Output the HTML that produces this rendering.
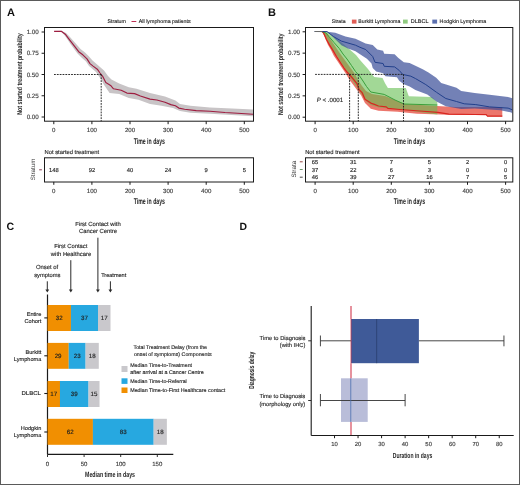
<!DOCTYPE html>
<html><head><meta charset="utf-8"><style>
html,body{margin:0;padding:0;background:#fff;}
body{width:520px;height:485px;overflow:hidden;}
svg{display:block;font-family:"Liberation Sans", sans-serif;will-change:transform;}
</style></head><body>
<svg width="520" height="485" viewBox="0 0 520 485" text-rendering="geometricPrecision">
<rect x="0" y="0" width="520" height="485" fill="#fff"/>
<text x="7" y="15.8" font-size="11" text-anchor="start" font-weight="bold" fill="#111" stroke="#111" stroke-width="0.0" >A</text>
<text x="268" y="15.8" font-size="11" text-anchor="start" font-weight="bold" fill="#111" stroke="#111" stroke-width="0.0" >B</text>
<text x="6.5" y="230" font-size="10.6" text-anchor="start" font-weight="bold" fill="#111" stroke="#111" stroke-width="0.0" >C</text>
<text x="239.5" y="229.6" font-size="10.4" text-anchor="start" font-weight="bold" fill="#111" stroke="#111" stroke-width="0.0" >D</text>
<path d="M54.00,31.00 L61.30,30.80 L66.00,33.00 L69.50,36.50 L73.00,40.50 L77.00,45.00 L80.50,49.00 L85.00,52.50 L89.00,56.50 L92.50,60.50 L96.00,63.50 L100.00,67.00 L104.00,70.50 L108.00,76.00 L111.50,79.60 L119.20,83.50 L128.80,87.30 L136.50,88.80 L150.00,93.10 L165.00,96.50 L175.40,100.60 L180.00,104.00 L190.40,105.80 L210.00,107.50 L237.50,108.75 L253.00,109.50 L253.00,116.25 L210.00,113.80 L190.40,112.70 L180.00,111.00 L173.00,108.10 L161.50,105.80 L150.00,104.00 L138.50,99.80 L128.80,97.90 L119.20,94.00 L109.60,93.10 L103.80,84.40 L101.50,80.00 L99.00,76.50 L96.00,72.00 L92.00,68.50 L89.00,66.00 L86.00,61.50 L81.50,57.50 L77.50,53.50 L74.50,49.50 L70.50,44.00 L67.50,39.50 L64.50,35.20 L61.30,31.80 L54.00,31.60Z" fill="#c8c4c6" stroke="none" stroke-width="1" />
<path d="M54.10,31.30 L61.30,31.30 L65.30,34.20 L68.40,38.30 L71.50,42.40 L75.60,47.60 L78.70,51.70 L82.80,54.80 L87.00,58.90 L90.00,63.60 L93.10,66.10 L97.30,69.20 L100.00,73.00 L102.90,76.70 L105.80,82.50 L110.60,85.40 L113.50,88.80 L121.20,90.20 L126.90,93.10 L134.60,93.60 L140.40,96.00 L150.00,99.10 L156.90,100.00 L165.00,102.30 L170.80,104.60 L175.40,105.80 L178.80,108.10 L184.60,109.20 L196.20,110.60 L210.00,111.30 L225.00,112.50 L237.50,113.20 L253.00,114.30" fill="none" stroke="#9e1d40" stroke-width="1.15" stroke-linejoin="round"/>
<path d="M54,74.5 L101.2,74.5 M101.2,74.5 L101.2,121.2" fill="none" stroke="#222" stroke-width="0.95" stroke-dasharray="1.8,1.05"/>
<rect x="44.5" y="27.5" width="209.0" height="93.7" fill="none" stroke="#1a1a1a" stroke-width="1"/>
<line x1="41.6" y1="32.0" x2="44.5" y2="32.0" stroke="#1a1a1a" stroke-width="1.0" />
<text x="38.8" y="34.22" font-size="6.25" text-anchor="end" font-weight="normal" fill="#3a3a3a" stroke="#3a3a3a" stroke-width="0.14" >1.00</text>
<line x1="41.6" y1="53.25" x2="44.5" y2="53.25" stroke="#1a1a1a" stroke-width="1.0" />
<text x="38.8" y="55.47" font-size="6.25" text-anchor="end" font-weight="normal" fill="#3a3a3a" stroke="#3a3a3a" stroke-width="0.14" >0.75</text>
<line x1="41.6" y1="74.5" x2="44.5" y2="74.5" stroke="#1a1a1a" stroke-width="1.0" />
<text x="38.8" y="76.72" font-size="6.25" text-anchor="end" font-weight="normal" fill="#3a3a3a" stroke="#3a3a3a" stroke-width="0.14" >0.50</text>
<line x1="41.6" y1="95.75" x2="44.5" y2="95.75" stroke="#1a1a1a" stroke-width="1.0" />
<text x="38.8" y="97.97" font-size="6.25" text-anchor="end" font-weight="normal" fill="#3a3a3a" stroke="#3a3a3a" stroke-width="0.14" >0.25</text>
<line x1="41.6" y1="117.0" x2="44.5" y2="117.0" stroke="#1a1a1a" stroke-width="1.0" />
<text x="38.8" y="119.22" font-size="6.25" text-anchor="end" font-weight="normal" fill="#3a3a3a" stroke="#3a3a3a" stroke-width="0.14" >0.00</text>
<line x1="53.8" y1="121.2" x2="53.8" y2="124.2" stroke="#1a1a1a" stroke-width="1.0" />
<text x="53.8" y="132.37" font-size="6.1" text-anchor="middle" font-weight="normal" fill="#3a3a3a" stroke="#3a3a3a" stroke-width="0.14" >0</text>
<line x1="91.9" y1="121.2" x2="91.9" y2="124.2" stroke="#1a1a1a" stroke-width="1.0" />
<text x="91.9" y="132.37" font-size="6.1" text-anchor="middle" font-weight="normal" fill="#3a3a3a" stroke="#3a3a3a" stroke-width="0.14" >100</text>
<line x1="130.0" y1="121.2" x2="130.0" y2="124.2" stroke="#1a1a1a" stroke-width="1.0" />
<text x="130.0" y="132.37" font-size="6.1" text-anchor="middle" font-weight="normal" fill="#3a3a3a" stroke="#3a3a3a" stroke-width="0.14" >200</text>
<line x1="168.10000000000002" y1="121.2" x2="168.10000000000002" y2="124.2" stroke="#1a1a1a" stroke-width="1.0" />
<text x="168.10000000000002" y="132.37" font-size="6.1" text-anchor="middle" font-weight="normal" fill="#3a3a3a" stroke="#3a3a3a" stroke-width="0.14" >300</text>
<line x1="206.2" y1="121.2" x2="206.2" y2="124.2" stroke="#1a1a1a" stroke-width="1.0" />
<text x="206.2" y="132.37" font-size="6.1" text-anchor="middle" font-weight="normal" fill="#3a3a3a" stroke="#3a3a3a" stroke-width="0.14" >400</text>
<line x1="244.3" y1="121.2" x2="244.3" y2="124.2" stroke="#1a1a1a" stroke-width="1.0" />
<text x="244.3" y="132.37" font-size="6.1" text-anchor="middle" font-weight="normal" fill="#3a3a3a" stroke="#3a3a3a" stroke-width="0.14" >500</text>
<text x="149.3" y="143.5" font-size="8.3" text-anchor="middle" font-weight="bold" fill="#222" stroke="#222" stroke-width="0.0" textLength="31.3" lengthAdjust="spacingAndGlyphs">Time in days</text>
<text transform="translate(21.9,74) rotate(-90)" x="0" y="0" font-size="7" text-anchor="middle" font-weight="bold" fill="#222" textLength="81.5" lengthAdjust="spacingAndGlyphs">Not started treatment probability</text>
<text x="107.5" y="23.36" font-size="5.25" text-anchor="start" font-weight="normal" fill="#262626" stroke="#262626" stroke-width="0.14" >Stratum</text>
<line x1="131.5" y1="21.5" x2="136.3" y2="21.5" stroke="#b8173f" stroke-width="0.9" />
<text x="138.8" y="23.38" font-size="5.3" text-anchor="start" font-weight="normal" fill="#262626" stroke="#262626" stroke-width="0.14" >All lymphoma patients</text>
<text x="44.6" y="153.56" font-size="5.8" text-anchor="start" font-weight="normal" fill="#262626" stroke="#262626" stroke-width="0.14" >Not started treatment</text>
<rect x="44.5" y="157.8" width="209" height="24.2" fill="none" stroke="#1a1a1a" stroke-width="1"/>
<text x="53.8" y="171.86" font-size="5.8" text-anchor="middle" font-weight="normal" fill="#262626" stroke="#262626" stroke-width="0.14" >148</text>
<text x="91.9" y="171.86" font-size="5.8" text-anchor="middle" font-weight="normal" fill="#262626" stroke="#262626" stroke-width="0.14" >92</text>
<text x="130.0" y="171.86" font-size="5.8" text-anchor="middle" font-weight="normal" fill="#262626" stroke="#262626" stroke-width="0.14" >40</text>
<text x="168.10000000000002" y="171.86" font-size="5.8" text-anchor="middle" font-weight="normal" fill="#262626" stroke="#262626" stroke-width="0.14" >24</text>
<text x="206.2" y="171.86" font-size="5.8" text-anchor="middle" font-weight="normal" fill="#262626" stroke="#262626" stroke-width="0.14" >9</text>
<text x="244.3" y="171.86" font-size="5.8" text-anchor="middle" font-weight="normal" fill="#262626" stroke="#262626" stroke-width="0.14" >5</text>
<line x1="39.2" y1="169.8" x2="41.9" y2="169.8" stroke="#8a3a50" stroke-width="1.0" />
<text transform="translate(35.0,169.5) rotate(-90)" font-size="6.2" text-anchor="middle" fill="#333">Stratum</text>
<line x1="53.8" y1="181.9" x2="53.8" y2="184.8" stroke="#1a1a1a" stroke-width="1.0" />
<text x="53.8" y="193.17" font-size="6.1" text-anchor="middle" font-weight="normal" fill="#3a3a3a" stroke="#3a3a3a" stroke-width="0.14" >0</text>
<line x1="91.9" y1="181.9" x2="91.9" y2="184.8" stroke="#1a1a1a" stroke-width="1.0" />
<text x="91.9" y="193.17" font-size="6.1" text-anchor="middle" font-weight="normal" fill="#3a3a3a" stroke="#3a3a3a" stroke-width="0.14" >100</text>
<line x1="130.0" y1="181.9" x2="130.0" y2="184.8" stroke="#1a1a1a" stroke-width="1.0" />
<text x="130.0" y="193.17" font-size="6.1" text-anchor="middle" font-weight="normal" fill="#3a3a3a" stroke="#3a3a3a" stroke-width="0.14" >200</text>
<line x1="168.10000000000002" y1="181.9" x2="168.10000000000002" y2="184.8" stroke="#1a1a1a" stroke-width="1.0" />
<text x="168.10000000000002" y="193.17" font-size="6.1" text-anchor="middle" font-weight="normal" fill="#3a3a3a" stroke="#3a3a3a" stroke-width="0.14" >300</text>
<line x1="206.2" y1="181.9" x2="206.2" y2="184.8" stroke="#1a1a1a" stroke-width="1.0" />
<text x="206.2" y="193.17" font-size="6.1" text-anchor="middle" font-weight="normal" fill="#3a3a3a" stroke="#3a3a3a" stroke-width="0.14" >400</text>
<line x1="244.3" y1="181.9" x2="244.3" y2="184.8" stroke="#1a1a1a" stroke-width="1.0" />
<text x="244.3" y="193.17" font-size="6.1" text-anchor="middle" font-weight="normal" fill="#3a3a3a" stroke="#3a3a3a" stroke-width="0.14" >500</text>
<text x="149.3" y="204" font-size="8.3" text-anchor="middle" font-weight="bold" fill="#222" stroke="#222" stroke-width="0.0" textLength="31.3" lengthAdjust="spacingAndGlyphs">Time in days</text>
<path d="M322.00,31.50 L327.00,33.00 L331.00,40.00 L335.00,46.00 L339.00,52.00 L343.00,57.50 L347.00,63.00 L351.00,68.50 L355.00,74.00 L358.00,80.00 L362.00,86.00 L366.00,91.00 L372.00,94.00 L385.00,96.00 L395.00,100.00 L405.00,104.00 L437.00,106.00 L455.00,107.00 L502.30,107.00 L502.30,116.50 L487.30,116.50 L486.00,115.00 L455.00,115.00 L440.00,114.60 L416.90,113.70 L397.70,111.70 L378.50,110.80 L370.80,108.80 L365.00,103.10 L361.20,95.40 L355.40,87.70 L349.60,80.00 L345.40,73.10 L341.50,67.30 L337.70,61.50 L333.80,55.80 L331.00,50.00 L328.00,44.90 L325.70,39.50 L324.20,35.70 L322.20,32.20Z" fill="rgb(228,60,45)" fill-opacity="0.7"/>
<path d="M322.00,31.50 L328.00,32.30 L332.00,35.50 L336.00,38.50 L340.00,41.50 L344.00,44.50 L348.00,48.00 L352.00,51.50 L356.00,55.00 L360.00,60.00 L364.00,64.50 L368.00,69.00 L371.00,73.00 L374.20,76.90 L382.50,78.00 L385.20,83.50 L387.90,88.00 L405.80,88.00 L408.80,96.20 L431.90,96.90 L436.50,101.50 L437.30,101.50 L437.30,114.60 L416.90,111.70 L403.50,109.80 L390.00,108.50 L378.50,107.50 L370.80,105.00 L366.00,101.00 L362.00,95.00 L358.00,89.00 L354.00,83.00 L350.00,77.00 L346.00,70.00 L342.00,64.00 L337.70,57.00 L333.00,50.00 L329.00,43.00 L326.00,37.00 L322.50,32.00Z" fill="rgb(100,190,80)" fill-opacity="0.6"/>
<path d="M314.60,31.50 L325.00,31.60 L335.30,32.80 L345.40,36.50 L355.50,38.80 L365.60,43.50 L372.70,45.00 L377.30,49.60 L383.10,50.80 L384.20,53.70 L394.60,54.20 L398.10,57.70 L403.80,62.30 L409.60,62.90 L415.40,65.80 L422.70,69.20 L428.50,72.40 L436.20,77.80 L441.20,83.10 L456.50,87.70 L461.20,91.00 L474.60,93.10 L489.60,94.80 L508.10,97.10 L512.30,98.30 L512.30,113.80 L511.40,112.50 L500.40,110.30 L474.80,108.60 L461.20,109.00 L445.80,106.20 L436.50,101.50 L427.30,94.60 L415.40,90.00 L409.60,86.50 L403.80,84.20 L399.20,80.80 L396.90,77.30 L385.40,76.20 L383.10,73.30 L376.20,71.50 L372.70,68.10 L371.50,63.50 L366.90,58.80 L360.00,54.20 L355.50,51.20 L348.00,48.50 L341.40,45.20 L335.00,39.00 L329.20,33.00 L327.00,32.00Z" fill="rgb(56,76,151)" fill-opacity="0.7"/>
<path d="M322.00,31.50 L323.40,32.60 L326.50,39.50 L329.50,44.90 L333.40,51.10 L336.50,56.50 L340.00,62.00 L344.00,68.00 L347.00,72.00 L350.20,75.40 L356.90,83.50 L359.20,89.60 L362.30,92.90 L365.00,99.20 L367.70,101.00 L370.80,103.10 L374.40,104.30 L378.50,106.00 L386.20,106.90 L387.90,108.40 L400.00,109.50 L420.00,111.00 L438.00,112.30 L448.80,114.20 L475.00,114.50 L486.20,114.50 L487.30,116.00 L502.30,116.00" fill="none" stroke="#d8261f" stroke-width="1.25" stroke-linejoin="round"/>
<path d="M322.00,31.50 L326.00,33.00 L329.20,36.80 L334.00,42.50 L339.30,48.50 L343.00,54.00 L347.00,59.00 L351.50,65.50 L355.50,71.50 L359.60,76.00 L363.00,81.00 L366.50,86.50 L370.80,92.00 L384.20,94.40 L395.00,100.00 L404.00,104.00 L437.30,105.00" fill="none" stroke="#3a9f3a" stroke-width="1.0" stroke-linejoin="round"/>
<path d="M314.60,31.50 L327.00,31.60 L333.40,36.50 L341.40,41.10 L355.50,45.20 L360.00,47.30 L365.80,49.60 L372.70,56.50 L375.00,62.30 L383.10,63.50 L384.20,66.30 L394.60,66.90 L399.20,70.40 L402.70,74.40 L410.80,76.20 L415.40,78.50 L425.80,84.60 L436.50,92.30 L445.80,98.50 L456.50,101.50 L464.20,103.80 L475.80,104.60 L489.60,106.90 L508.10,108.10 L512.30,109.80" fill="none" stroke="#22408c" stroke-width="1.0" stroke-linejoin="round"/>
<path d="M314.6,31.5 L322.5,31.5" stroke="#6a6a6a" stroke-width="1"/>
<path d="M315.1,74.4 L403.5,74.4 M349.6,74.4 L349.6,121.2 M358.3,74.4 L358.3,121.2 M403.5,74.4 L403.5,121.2" fill="none" stroke="#222" stroke-width="0.95" stroke-dasharray="1.8,1.05"/>
<rect x="305.5" y="27.5" width="207.3" height="93.7" fill="none" stroke="#1a1a1a" stroke-width="1"/>
<line x1="302.6" y1="31.8" x2="305.5" y2="31.8" stroke="#1a1a1a" stroke-width="1.0" />
<text x="300.1" y="34.02" font-size="6.25" text-anchor="end" font-weight="normal" fill="#3a3a3a" stroke="#3a3a3a" stroke-width="0.14" >1.00</text>
<line x1="302.6" y1="53.150000000000006" x2="305.5" y2="53.150000000000006" stroke="#1a1a1a" stroke-width="1.0" />
<text x="300.1" y="55.37" font-size="6.25" text-anchor="end" font-weight="normal" fill="#3a3a3a" stroke="#3a3a3a" stroke-width="0.14" >0.75</text>
<line x1="302.6" y1="74.5" x2="305.5" y2="74.5" stroke="#1a1a1a" stroke-width="1.0" />
<text x="300.1" y="76.72" font-size="6.25" text-anchor="end" font-weight="normal" fill="#3a3a3a" stroke="#3a3a3a" stroke-width="0.14" >0.50</text>
<line x1="302.6" y1="95.85000000000001" x2="305.5" y2="95.85000000000001" stroke="#1a1a1a" stroke-width="1.0" />
<text x="300.1" y="98.07" font-size="6.25" text-anchor="end" font-weight="normal" fill="#3a3a3a" stroke="#3a3a3a" stroke-width="0.14" >0.25</text>
<line x1="302.6" y1="117.2" x2="305.5" y2="117.2" stroke="#1a1a1a" stroke-width="1.0" />
<text x="300.1" y="119.42" font-size="6.25" text-anchor="end" font-weight="normal" fill="#3a3a3a" stroke="#3a3a3a" stroke-width="0.14" >0.00</text>
<line x1="315.1" y1="121.2" x2="315.1" y2="124.2" stroke="#1a1a1a" stroke-width="1.0" />
<text x="315.1" y="132.37" font-size="6.1" text-anchor="middle" font-weight="normal" fill="#3a3a3a" stroke="#3a3a3a" stroke-width="0.14" >0</text>
<line x1="353.20000000000005" y1="121.2" x2="353.20000000000005" y2="124.2" stroke="#1a1a1a" stroke-width="1.0" />
<text x="353.20000000000005" y="132.37" font-size="6.1" text-anchor="middle" font-weight="normal" fill="#3a3a3a" stroke="#3a3a3a" stroke-width="0.14" >100</text>
<line x1="391.3" y1="121.2" x2="391.3" y2="124.2" stroke="#1a1a1a" stroke-width="1.0" />
<text x="391.3" y="132.37" font-size="6.1" text-anchor="middle" font-weight="normal" fill="#3a3a3a" stroke="#3a3a3a" stroke-width="0.14" >200</text>
<line x1="429.40000000000003" y1="121.2" x2="429.40000000000003" y2="124.2" stroke="#1a1a1a" stroke-width="1.0" />
<text x="429.40000000000003" y="132.37" font-size="6.1" text-anchor="middle" font-weight="normal" fill="#3a3a3a" stroke="#3a3a3a" stroke-width="0.14" >300</text>
<line x1="467.5" y1="121.2" x2="467.5" y2="124.2" stroke="#1a1a1a" stroke-width="1.0" />
<text x="467.5" y="132.37" font-size="6.1" text-anchor="middle" font-weight="normal" fill="#3a3a3a" stroke="#3a3a3a" stroke-width="0.14" >400</text>
<line x1="505.6" y1="121.2" x2="505.6" y2="124.2" stroke="#1a1a1a" stroke-width="1.0" />
<text x="505.6" y="132.37" font-size="6.1" text-anchor="middle" font-weight="normal" fill="#3a3a3a" stroke="#3a3a3a" stroke-width="0.14" >500</text>
<text x="409.5" y="143.5" font-size="8.3" text-anchor="middle" font-weight="bold" fill="#222" stroke="#222" stroke-width="0.0" textLength="31.3" lengthAdjust="spacingAndGlyphs">Time in days</text>
<text transform="translate(283.0,74.2) rotate(-90)" x="0" y="0" font-size="7" text-anchor="middle" font-weight="bold" fill="#222" textLength="81.5" lengthAdjust="spacingAndGlyphs">Not started treatment probability</text>
<text x="331.7" y="23.15" font-size="5.2" text-anchor="start" font-weight="normal" fill="#262626" stroke="#262626" stroke-width="0.14" >Strata</text>
<rect x="351.9" y="19.6" width="4.6" height="4" fill="#e15d55" />
<text x="358.3" y="23.16" font-size="5.25" text-anchor="start" font-weight="normal" fill="#262626" stroke="#262626" stroke-width="0.14" >Burkitt Lymphoma</text>
<rect x="403" y="19.6" width="4.7" height="4" fill="#8fca7f" />
<text x="410.8" y="23.25" font-size="5.5" text-anchor="start" font-weight="normal" fill="#262626" stroke="#262626" stroke-width="0.14" >DLBCL</text>
<rect x="432.3" y="19.6" width="4.8" height="4" fill="#5b6fae" />
<text x="439.6" y="23.17" font-size="5.26" text-anchor="start" font-weight="normal" fill="#262626" stroke="#262626" stroke-width="0.14" >Hodgkin Lymphoma</text>
<text x="316.8" y="102.2" font-size="6.1" text-anchor="start" font-weight="normal" fill="#262626" stroke="#262626" stroke-width="0.14" ><tspan font-style="italic">P</tspan> &lt; .0001</text>
<text x="305.2" y="153.56" font-size="5.8" text-anchor="start" font-weight="normal" fill="#262626" stroke="#262626" stroke-width="0.14" >Not started treatment</text>
<rect x="305.5" y="157.8" width="207.3" height="24.2" fill="none" stroke="#1a1a1a" stroke-width="1"/>
<text x="315.1" y="163.86" font-size="5.8" text-anchor="middle" font-weight="normal" fill="#262626" stroke="#262626" stroke-width="0.14" >65</text>
<text x="353.20000000000005" y="163.86" font-size="5.8" text-anchor="middle" font-weight="normal" fill="#262626" stroke="#262626" stroke-width="0.14" >31</text>
<text x="391.3" y="163.86" font-size="5.8" text-anchor="middle" font-weight="normal" fill="#262626" stroke="#262626" stroke-width="0.14" >7</text>
<text x="429.40000000000003" y="163.86" font-size="5.8" text-anchor="middle" font-weight="normal" fill="#262626" stroke="#262626" stroke-width="0.14" >5</text>
<text x="467.5" y="163.86" font-size="5.8" text-anchor="middle" font-weight="normal" fill="#262626" stroke="#262626" stroke-width="0.14" >2</text>
<text x="505.6" y="163.86" font-size="5.8" text-anchor="middle" font-weight="normal" fill="#262626" stroke="#262626" stroke-width="0.14" >0</text>
<line x1="299.8" y1="161.8" x2="302.7" y2="161.8" stroke="#8a3530" stroke-width="0.9" />
<text x="315.1" y="171.56" font-size="5.8" text-anchor="middle" font-weight="normal" fill="#262626" stroke="#262626" stroke-width="0.14" >37</text>
<text x="353.20000000000005" y="171.56" font-size="5.8" text-anchor="middle" font-weight="normal" fill="#262626" stroke="#262626" stroke-width="0.14" >22</text>
<text x="391.3" y="171.56" font-size="5.8" text-anchor="middle" font-weight="normal" fill="#262626" stroke="#262626" stroke-width="0.14" >6</text>
<text x="429.40000000000003" y="171.56" font-size="5.8" text-anchor="middle" font-weight="normal" fill="#262626" stroke="#262626" stroke-width="0.14" >3</text>
<text x="467.5" y="171.56" font-size="5.8" text-anchor="middle" font-weight="normal" fill="#262626" stroke="#262626" stroke-width="0.14" >0</text>
<text x="505.6" y="171.56" font-size="5.8" text-anchor="middle" font-weight="normal" fill="#262626" stroke="#262626" stroke-width="0.14" >0</text>
<line x1="299.8" y1="169.5" x2="302.7" y2="169.5" stroke="#5f8f5c" stroke-width="0.9" />
<text x="315.1" y="179.26" font-size="5.8" text-anchor="middle" font-weight="normal" fill="#262626" stroke="#262626" stroke-width="0.14" >46</text>
<text x="353.20000000000005" y="179.26" font-size="5.8" text-anchor="middle" font-weight="normal" fill="#262626" stroke="#262626" stroke-width="0.14" >39</text>
<text x="391.3" y="179.26" font-size="5.8" text-anchor="middle" font-weight="normal" fill="#262626" stroke="#262626" stroke-width="0.14" >27</text>
<text x="429.40000000000003" y="179.26" font-size="5.8" text-anchor="middle" font-weight="normal" fill="#262626" stroke="#262626" stroke-width="0.14" >16</text>
<text x="467.5" y="179.26" font-size="5.8" text-anchor="middle" font-weight="normal" fill="#262626" stroke="#262626" stroke-width="0.14" >7</text>
<text x="505.6" y="179.26" font-size="5.8" text-anchor="middle" font-weight="normal" fill="#262626" stroke="#262626" stroke-width="0.14" >5</text>
<line x1="299.8" y1="177.20000000000002" x2="302.7" y2="177.20000000000002" stroke="#333333" stroke-width="0.9" />
<text transform="translate(295.9,169.2) rotate(-90)" font-size="6.3" text-anchor="middle" fill="#333">Strata</text>
<line x1="315.1" y1="181.9" x2="315.1" y2="184.8" stroke="#1a1a1a" stroke-width="1.0" />
<text x="315.1" y="193.17" font-size="6.1" text-anchor="middle" font-weight="normal" fill="#3a3a3a" stroke="#3a3a3a" stroke-width="0.14" >0</text>
<line x1="353.20000000000005" y1="181.9" x2="353.20000000000005" y2="184.8" stroke="#1a1a1a" stroke-width="1.0" />
<text x="353.20000000000005" y="193.17" font-size="6.1" text-anchor="middle" font-weight="normal" fill="#3a3a3a" stroke="#3a3a3a" stroke-width="0.14" >100</text>
<line x1="391.3" y1="181.9" x2="391.3" y2="184.8" stroke="#1a1a1a" stroke-width="1.0" />
<text x="391.3" y="193.17" font-size="6.1" text-anchor="middle" font-weight="normal" fill="#3a3a3a" stroke="#3a3a3a" stroke-width="0.14" >200</text>
<line x1="429.40000000000003" y1="181.9" x2="429.40000000000003" y2="184.8" stroke="#1a1a1a" stroke-width="1.0" />
<text x="429.40000000000003" y="193.17" font-size="6.1" text-anchor="middle" font-weight="normal" fill="#3a3a3a" stroke="#3a3a3a" stroke-width="0.14" >300</text>
<line x1="467.5" y1="181.9" x2="467.5" y2="184.8" stroke="#1a1a1a" stroke-width="1.0" />
<text x="467.5" y="193.17" font-size="6.1" text-anchor="middle" font-weight="normal" fill="#3a3a3a" stroke="#3a3a3a" stroke-width="0.14" >400</text>
<line x1="505.6" y1="181.9" x2="505.6" y2="184.8" stroke="#1a1a1a" stroke-width="1.0" />
<text x="505.6" y="193.17" font-size="6.1" text-anchor="middle" font-weight="normal" fill="#3a3a3a" stroke="#3a3a3a" stroke-width="0.14" >500</text>
<text x="409.5" y="204" font-size="8.3" text-anchor="middle" font-weight="bold" fill="#222" stroke="#222" stroke-width="0.0" textLength="31.3" lengthAdjust="spacingAndGlyphs">Time in days</text>
<text x="98" y="225.79" font-size="5.9" text-anchor="middle" font-weight="normal" fill="#262626" stroke="#262626" stroke-width="0.14" >First Contact with</text>
<text x="98" y="232.88" font-size="5.85" text-anchor="middle" font-weight="normal" fill="#262626" stroke="#262626" stroke-width="0.14" >Cancer Centre</text>
<line x1="97.9" y1="237.7" x2="97.9" y2="290" stroke="#2a2a2a" stroke-width="1.0" />
<path d="M96.0,289.4 L99.80000000000001,289.4 L97.9,292.6 Z" fill="#2a2a2a" stroke="none" stroke-width="1" />
<text x="70.8" y="248.28" font-size="5.85" text-anchor="middle" font-weight="normal" fill="#262626" stroke="#262626" stroke-width="0.14" >First Contact</text>
<text x="71" y="255.58" font-size="5.85" text-anchor="middle" font-weight="normal" fill="#262626" stroke="#262626" stroke-width="0.14" >with Healthcare</text>
<line x1="70.8" y1="260.2" x2="70.8" y2="290" stroke="#2a2a2a" stroke-width="1.0" />
<path d="M68.89999999999999,289.4 L72.7,289.4 L70.8,292.6 Z" fill="#2a2a2a" stroke="none" stroke-width="1" />
<text x="47.1" y="269.39" font-size="5.9" text-anchor="middle" font-weight="normal" fill="#262626" stroke="#262626" stroke-width="0.14" >Onset of</text>
<text x="47.3" y="277.04" font-size="5.75" text-anchor="middle" font-weight="normal" fill="#262626" stroke="#262626" stroke-width="0.14" >symptoms</text>
<line x1="47.3" y1="281.3" x2="47.3" y2="290" stroke="#2a2a2a" stroke-width="1.0" />
<path d="M45.4,289.4 L49.199999999999996,289.4 L47.3,292.6 Z" fill="#2a2a2a" stroke="none" stroke-width="1" />
<text x="113.7" y="276.97" font-size="5.55" text-anchor="middle" font-weight="normal" fill="#262626" stroke="#262626" stroke-width="0.14" >Treatment</text>
<line x1="110.4" y1="281.3" x2="110.4" y2="290" stroke="#2a2a2a" stroke-width="1.0" />
<path d="M108.5,289.4 L112.30000000000001,289.4 L110.4,292.6 Z" fill="#2a2a2a" stroke="none" stroke-width="1" />
<line x1="47.5" y1="294.5" x2="47.5" y2="454.4" stroke="#1a1a1a" stroke-width="1.2" />
<line x1="47.5" y1="454.4" x2="173.3" y2="454.4" stroke="#1a1a1a" stroke-width="1.1" />
<rect x="47.5" y="305" width="23.474" height="26" fill="#f18f01" />
<text x="59.212" y="320.1" font-size="6.2" text-anchor="middle" font-weight="normal" fill="#1e1e1e" stroke="#1e1e1e" stroke-width="0.14" >32</text>
<rect x="70.924" y="305" width="27.134" height="26" fill="#27a8e0" />
<text x="84.46600000000001" y="320.1" font-size="6.2" text-anchor="middle" font-weight="normal" fill="#1e1e1e" stroke="#1e1e1e" stroke-width="0.14" >37</text>
<rect x="98.008" y="305" width="12.494" height="26" fill="#c9c8cc" />
<text x="104.22999999999999" y="320.1" font-size="6.2" text-anchor="middle" font-weight="normal" fill="#1e1e1e" stroke="#1e1e1e" stroke-width="0.14" >17</text>
<line x1="44.3" y1="317.9" x2="47.5" y2="317.9" stroke="#1a1a1a" stroke-width="1.1" />
<text x="41.3" y="316.39" font-size="5.6" text-anchor="end" font-weight="normal" fill="#262626" stroke="#262626" stroke-width="0.14" >Entire</text>
<text x="41.3" y="323.39" font-size="5.6" text-anchor="end" font-weight="normal" fill="#262626" stroke="#262626" stroke-width="0.14" >Cohort</text>
<rect x="47.5" y="342.9" width="21.278" height="25.900000000000034" fill="#f18f01" />
<text x="58.114" y="358.0" font-size="6.2" text-anchor="middle" font-weight="normal" fill="#1e1e1e" stroke="#1e1e1e" stroke-width="0.14" >29</text>
<rect x="68.728" y="342.9" width="16.886" height="25.900000000000034" fill="#27a8e0" />
<text x="77.146" y="358.0" font-size="6.2" text-anchor="middle" font-weight="normal" fill="#1e1e1e" stroke="#1e1e1e" stroke-width="0.14" >23</text>
<rect x="85.564" y="342.9" width="13.226" height="25.900000000000034" fill="#c9c8cc" />
<text x="92.152" y="358.0" font-size="6.2" text-anchor="middle" font-weight="normal" fill="#1e1e1e" stroke="#1e1e1e" stroke-width="0.14" >18</text>
<line x1="44.3" y1="355.8" x2="47.5" y2="355.8" stroke="#1a1a1a" stroke-width="1.1" />
<text x="41.3" y="354.29" font-size="5.6" text-anchor="end" font-weight="normal" fill="#262626" stroke="#262626" stroke-width="0.14" >Burkitt</text>
<text x="41.3" y="361.29" font-size="5.6" text-anchor="end" font-weight="normal" fill="#262626" stroke="#262626" stroke-width="0.14" >Lymphoma</text>
<rect x="47.5" y="381" width="12.494" height="26" fill="#f18f01" />
<text x="53.722" y="395.7" font-size="6.2" text-anchor="middle" font-weight="normal" fill="#1e1e1e" stroke="#1e1e1e" stroke-width="0.14" >17</text>
<rect x="59.944" y="381" width="28.598" height="26" fill="#27a8e0" />
<text x="74.218" y="395.7" font-size="6.2" text-anchor="middle" font-weight="normal" fill="#1e1e1e" stroke="#1e1e1e" stroke-width="0.14" >39</text>
<rect x="88.49199999999999" y="381" width="11.030000000000001" height="26" fill="#c9c8cc" />
<text x="93.982" y="395.7" font-size="6.2" text-anchor="middle" font-weight="normal" fill="#1e1e1e" stroke="#1e1e1e" stroke-width="0.14" >15</text>
<line x1="44.3" y1="393.5" x2="47.5" y2="393.5" stroke="#1a1a1a" stroke-width="1.1" />
<text x="41.0" y="395.49" font-size="5.6" text-anchor="end" font-weight="normal" fill="#262626" stroke="#262626" stroke-width="0.14" textLength="19.5" lengthAdjust="spacingAndGlyphs">DLBCL</text>
<rect x="47.5" y="418.8" width="45.434" height="26.0" fill="#f18f01" />
<text x="70.19200000000001" y="434.2" font-size="6.2" text-anchor="middle" font-weight="normal" fill="#1e1e1e" stroke="#1e1e1e" stroke-width="0.14" >62</text>
<rect x="92.884" y="418.8" width="60.806" height="26.0" fill="#27a8e0" />
<text x="123.262" y="434.2" font-size="6.2" text-anchor="middle" font-weight="normal" fill="#1e1e1e" stroke="#1e1e1e" stroke-width="0.14" >83</text>
<rect x="153.64" y="418.8" width="13.226" height="26.0" fill="#c9c8cc" />
<text x="160.228" y="434.2" font-size="6.2" text-anchor="middle" font-weight="normal" fill="#1e1e1e" stroke="#1e1e1e" stroke-width="0.14" >18</text>
<line x1="44.3" y1="432" x2="47.5" y2="432" stroke="#1a1a1a" stroke-width="1.1" />
<text x="41.3" y="430.49" font-size="5.6" text-anchor="end" font-weight="normal" fill="#262626" stroke="#262626" stroke-width="0.14" >Hodgkin</text>
<text x="41.3" y="437.49" font-size="5.6" text-anchor="end" font-weight="normal" fill="#262626" stroke="#262626" stroke-width="0.14" >Lymphoma</text>
<line x1="47.5" y1="454.4" x2="47.5" y2="457" stroke="#1a1a1a" stroke-width="0.9" />
<text x="47.5" y="465.73" font-size="6.0" text-anchor="middle" font-weight="normal" fill="#3a3a3a" stroke="#3a3a3a" stroke-width="0.14" >0</text>
<line x1="84.1" y1="454.4" x2="84.1" y2="457" stroke="#1a1a1a" stroke-width="0.9" />
<text x="84.1" y="465.73" font-size="6.0" text-anchor="middle" font-weight="normal" fill="#3a3a3a" stroke="#3a3a3a" stroke-width="0.14" >50</text>
<line x1="120.7" y1="454.4" x2="120.7" y2="457" stroke="#1a1a1a" stroke-width="0.9" />
<text x="120.7" y="465.73" font-size="6.0" text-anchor="middle" font-weight="normal" fill="#3a3a3a" stroke="#3a3a3a" stroke-width="0.14" >100</text>
<line x1="157.3" y1="454.4" x2="157.3" y2="457" stroke="#1a1a1a" stroke-width="0.9" />
<text x="157.3" y="465.73" font-size="6.0" text-anchor="middle" font-weight="normal" fill="#3a3a3a" stroke="#3a3a3a" stroke-width="0.14" >150</text>
<text x="110" y="477.3" font-size="7.6" text-anchor="middle" font-weight="bold" fill="#262626" stroke="#262626" stroke-width="0.0" textLength="50" lengthAdjust="spacingAndGlyphs">Median time in days</text>
<text x="133.5" y="348.86" font-size="5.25" text-anchor="start" font-weight="normal" fill="#262626" stroke="#262626" stroke-width="0.14" >Total Treatment Delay (from the</text>
<text x="133.9" y="356.28" font-size="5.3" text-anchor="start" font-weight="normal" fill="#262626" stroke="#262626" stroke-width="0.14" >onset of symptoms) Components</text>
<rect x="121.5" y="366" width="6" height="6" fill="#c9c8cc" />
<text x="130.2" y="367.27" font-size="5.27" text-anchor="start" font-weight="normal" fill="#262626" stroke="#262626" stroke-width="0.14" >Median Time-to-Treatment</text>
<text x="130.2" y="374.3" font-size="5.36" text-anchor="start" font-weight="normal" fill="#262626" stroke="#262626" stroke-width="0.14" >after arrival at a Cancer Centre</text>
<rect x="121.5" y="378.3" width="6" height="5.6" fill="#27a8e0" />
<text x="130.2" y="382.66" font-size="5.25" text-anchor="start" font-weight="normal" fill="#262626" stroke="#262626" stroke-width="0.14" >Median Time-to-Referral</text>
<rect x="121.5" y="387.5" width="6" height="5.5" fill="#f18f01" />
<text x="130.2" y="392.2" font-size="5.35" text-anchor="start" font-weight="normal" fill="#262626" stroke="#262626" stroke-width="0.14" >Median Time-to-First Healthcare contact</text>
<line x1="311.2" y1="305.9" x2="311.2" y2="435.5" stroke="#1a1a1a" stroke-width="1.1" />
<line x1="311.2" y1="435.5" x2="513.7" y2="435.5" stroke="#1a1a1a" stroke-width="1.1" />
<rect x="351.001" y="319" width="67.88405" height="44.2" fill="#3f5a98" />
<line x1="376.6487" y1="319" x2="376.6487" y2="363.2" stroke="#2a4070" stroke-width="0.8" />
<line x1="320.412" y1="340.8" x2="351.001" y2="340.8" stroke="#333" stroke-width="0.9" />
<line x1="418.88505" y1="340.8" x2="503.946" y2="340.8" stroke="#333" stroke-width="0.9" />
<line x1="320.412" y1="335.5" x2="320.412" y2="346.3" stroke="#333" stroke-width="0.9" />
<line x1="503.946" y1="335.5" x2="503.946" y2="346.3" stroke="#333" stroke-width="0.9" />
<rect x="341.00075" y="378.3" width="26.70655000000005" height="43.6" fill="#b9bdd9" />
<line x1="320.412" y1="400.5" x2="405.12" y2="400.5" stroke="#333" stroke-width="0.9" />
<line x1="320.412" y1="394" x2="320.412" y2="406.3" stroke="#333" stroke-width="0.9" />
<line x1="405.12" y1="394" x2="405.12" y2="406.3" stroke="#333" stroke-width="0.9" />
<line x1="350.7657" y1="378.3" x2="350.7657" y2="421.9" stroke="#4a6fb0" stroke-width="0.8" />
<line x1="351.001" y1="305.9" x2="351.001" y2="319" stroke="#d23a4f" stroke-width="1.1" />
<line x1="351.001" y1="363.2" x2="351.001" y2="378.3" stroke="#d23a4f" stroke-width="1.1" />
<line x1="351.001" y1="421.9" x2="351.001" y2="435" stroke="#d23a4f" stroke-width="1.1" />
<line x1="351.001" y1="319" x2="351.001" y2="363.2" stroke="#d23a4f" stroke-width="0.8" />
<line x1="308.2" y1="340.8" x2="311.2" y2="340.8" stroke="#1a1a1a" stroke-width="0.9" />
<line x1="308.2" y1="400.5" x2="311.2" y2="400.5" stroke="#1a1a1a" stroke-width="0.9" />
<text x="305.4" y="340.04" font-size="5.76" text-anchor="end" font-weight="normal" fill="#262626" stroke="#262626" stroke-width="0.14" >Time to Diagnosis</text>
<text x="305.4" y="346.84" font-size="5.76" text-anchor="end" font-weight="normal" fill="#262626" stroke="#262626" stroke-width="0.14" >(with IHC)</text>
<text x="305.2" y="398.34" font-size="5.76" text-anchor="end" font-weight="normal" fill="#262626" stroke="#262626" stroke-width="0.14" >Time to Diagnosis</text>
<text x="305.2" y="405.73" font-size="5.72" text-anchor="end" font-weight="normal" fill="#262626" stroke="#262626" stroke-width="0.14" >(morphology only)</text>
<line x1="334.53" y1="435.5" x2="334.53" y2="438.2" stroke="#1a1a1a" stroke-width="1.0" />
<text x="334.53" y="446.49" font-size="5.9" text-anchor="middle" font-weight="normal" fill="#3a3a3a" stroke="#3a3a3a" stroke-width="0.14" >10</text>
<line x1="358.06" y1="435.5" x2="358.06" y2="438.2" stroke="#1a1a1a" stroke-width="1.0" />
<text x="358.06" y="446.49" font-size="5.9" text-anchor="middle" font-weight="normal" fill="#3a3a3a" stroke="#3a3a3a" stroke-width="0.14" >20</text>
<line x1="381.59000000000003" y1="435.5" x2="381.59000000000003" y2="438.2" stroke="#1a1a1a" stroke-width="1.0" />
<text x="381.59000000000003" y="446.49" font-size="5.9" text-anchor="middle" font-weight="normal" fill="#3a3a3a" stroke="#3a3a3a" stroke-width="0.14" >30</text>
<line x1="405.12" y1="435.5" x2="405.12" y2="438.2" stroke="#1a1a1a" stroke-width="1.0" />
<text x="405.12" y="446.49" font-size="5.9" text-anchor="middle" font-weight="normal" fill="#3a3a3a" stroke="#3a3a3a" stroke-width="0.14" >40</text>
<line x1="428.65" y1="435.5" x2="428.65" y2="438.2" stroke="#1a1a1a" stroke-width="1.0" />
<text x="428.65" y="446.49" font-size="5.9" text-anchor="middle" font-weight="normal" fill="#3a3a3a" stroke="#3a3a3a" stroke-width="0.14" >50</text>
<line x1="452.18" y1="435.5" x2="452.18" y2="438.2" stroke="#1a1a1a" stroke-width="1.0" />
<text x="452.18" y="446.49" font-size="5.9" text-anchor="middle" font-weight="normal" fill="#3a3a3a" stroke="#3a3a3a" stroke-width="0.14" >60</text>
<line x1="475.71000000000004" y1="435.5" x2="475.71000000000004" y2="438.2" stroke="#1a1a1a" stroke-width="1.0" />
<text x="475.71000000000004" y="446.49" font-size="5.9" text-anchor="middle" font-weight="normal" fill="#3a3a3a" stroke="#3a3a3a" stroke-width="0.14" >70</text>
<line x1="499.24" y1="435.5" x2="499.24" y2="438.2" stroke="#1a1a1a" stroke-width="1.0" />
<text x="499.24" y="446.49" font-size="5.9" text-anchor="middle" font-weight="normal" fill="#3a3a3a" stroke="#3a3a3a" stroke-width="0.14" >80</text>
<text x="412.5" y="457.8" font-size="7.4" text-anchor="middle" font-weight="bold" fill="#262626" stroke="#262626" stroke-width="0.0" textLength="39.5" lengthAdjust="spacingAndGlyphs">Duration in days</text>
<text transform="translate(254.0,370.3) rotate(-90)" font-size="7.3" text-anchor="middle" font-weight="bold" fill="#222" textLength="37" lengthAdjust="spacingAndGlyphs">Diagnosis delay</text>
<rect x="0.5" y="0.5" width="519" height="484" fill="none" stroke="#5a5a5a" stroke-width="1"/>
</svg>
</body></html>
